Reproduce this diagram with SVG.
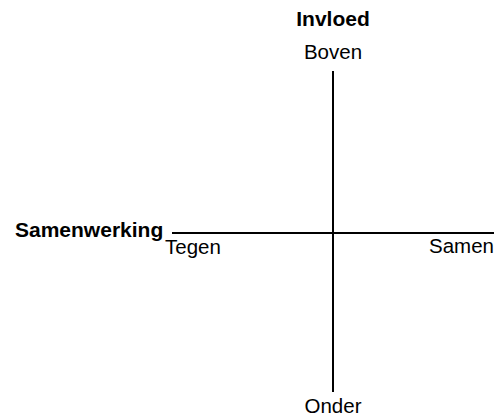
<svg xmlns="http://www.w3.org/2000/svg" width="496" height="417" viewBox="0 0 496 417">
<style>
text{font-family:"Liberation Sans",Arial,sans-serif;font-size:20.5px;fill:#000}
.b{font-weight:bold;font-size:21px}
.ax{stroke:#000;stroke-width:2;fill:none}
</style>
<rect width="496" height="417" fill="#fff"/>
<g id="connectors">
<line class="ax" x1="333" y1="71" x2="333" y2="392"/>
<line class="ax" x1="172" y1="233" x2="494" y2="233"/>
</g>
<g id="invloed"><text class="b" x="333" y="26" text-anchor="middle">Invloed</text></g>
<g id="boven"><text x="333" y="59" text-anchor="middle">Boven</text></g>
<g id="onder"><text x="333" y="413" text-anchor="middle">Onder</text></g>
<g id="samenwerking"><text class="b" x="15" y="237">Samenwerking</text></g>
<g id="tegen"><text x="165" y="254">Tegen</text></g>
<g id="samen"><text x="494" y="253" text-anchor="end">Samen</text></g>
</svg>
